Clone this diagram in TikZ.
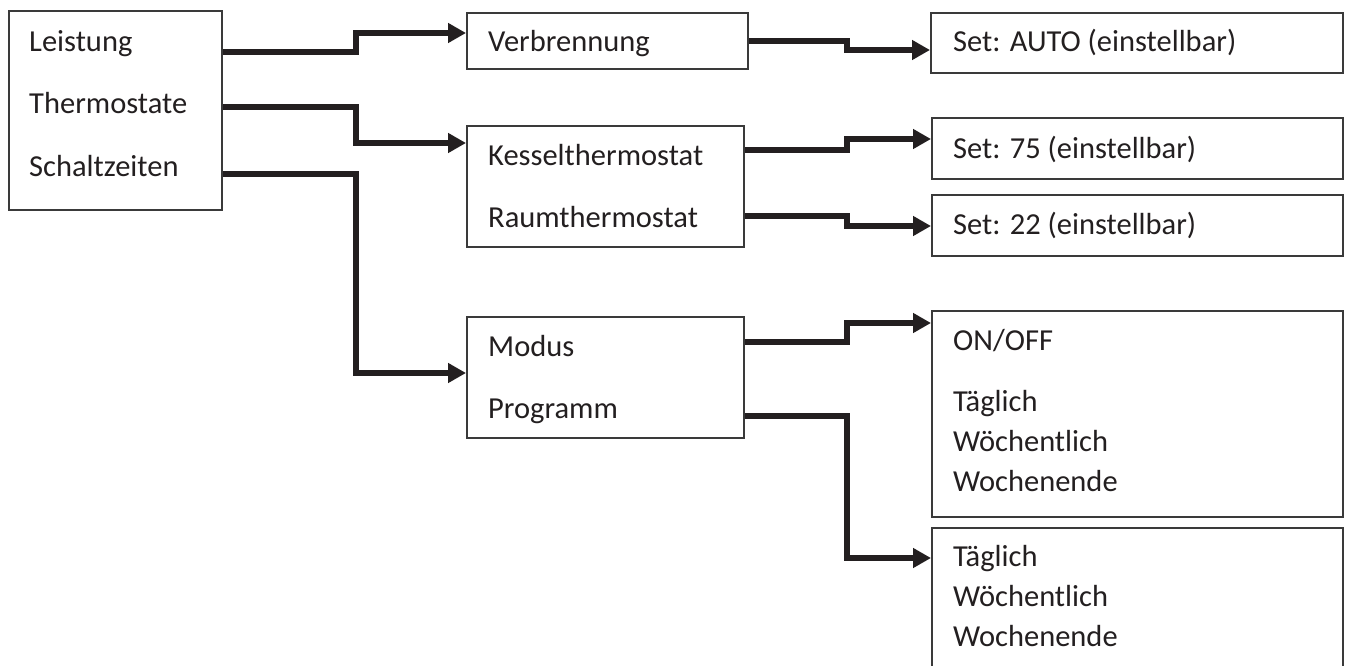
\documentclass[tikz,border=0pt]{standalone}
\usepackage{fontspec}
\setmainfont{Carlito}
\usetikzlibrary{arrows.meta}
\definecolor{boxgray}{HTML}{3A3A3A}
\definecolor{arr}{HTML}{231F20}
\definecolor{txt}{HTML}{231F20}
\begin{document}
\begin{tikzpicture}[x=1pt,y=-1pt,
  box/.style={draw=boxgray, line width=2pt, rectangle, anchor=north west, inner sep=0pt},
  lbl/.style={anchor=base west, inner sep=0pt, font=\fontsize{30.5}{36}\selectfont, text=txt},
  conn/.style={draw=arr, line width=6pt, line join=miter, -{Triangle[length=18pt,width=19pt]}}]
\useasboundingbox[fill=white] (0,0) rectangle (1349,666);

% boxes
\node[box, minimum width=213pt, minimum height=199pt] (A) at (8,10) {};
\node[box, minimum width=281pt, minimum height=56pt] (V) at (466,12) {};
\node[box, minimum width=277pt, minimum height=121pt] (K) at (466,125) {};
\node[box, minimum width=277pt, minimum height=121pt] (M) at (466,316) {};
\node[box, minimum width=412pt, minimum height=60pt] (SA) at (930,12) {};
\node[box, minimum width=411pt, minimum height=61pt] (S75) at (931,117) {};
\node[box, minimum width=411pt, minimum height=61pt] (S22) at (931,194) {};
\node[box, minimum width=411pt, minimum height=206pt] (OO) at (931,310) {};
\node[box, minimum width=411pt, minimum height=160pt] (TL) at (931,527) {};

% texts
\node[lbl] (tA1) at (29,52) {Leistung};
\node[lbl] (tA2) at (29,114) {Thermostate};
\node[lbl] (tA3) at (29,176) {Schaltzeiten};
\node[lbl] (tV) at (488,52) {Verbrennung};
\node[lbl] (tK1) at (488,165) {Kesselthermostat};
\node[lbl] (tK2) at (488,227) {Raumthermostat};
\node[lbl] (tM1) at (488,356) {Modus};
\node[lbl] (tM2) at (488,418) {Programm};
\node[lbl] (tSA) at (953,52) {Set: AUTO (einstellbar)};
\node[lbl] (tS75) at (953,158) {Set: 75 (einstellbar)};
\node[lbl] (tS22) at (953,234) {Set: 22 (einstellbar)};
\node[lbl] (tO1) at (953,350) {ON/OFF};
\node[lbl] (tO2) at (953,411) {Täglich};
\node[lbl] (tO3) at (953,451) {Wöchentlich};
\node[lbl] (tO4) at (953,491) {Wochenende};
\node[lbl] (tT1) at (953,566) {Täglich};
\node[lbl] (tT2) at (953,606) {Wöchentlich};
\node[lbl] (tT3) at (953,646) {Wochenende};

% connectors
\draw[conn] (A.east |- 0,52) -- (356,52) -- (356,33) -- (V.west |- 0,33);
\draw[conn] (A.east |- 0,107) -- (356,107) -- (356,143) -- (K.west |- 0,143);
\draw[conn] (A.east |- 0,174) -- (356,174) -- (356,373) -- (M.west |- 0,373);
\draw[conn] (V.east |- 0,41) -- (847,41) -- (847,50) -- (SA.west |- 0,50);
\draw[conn] (K.east |- 0,150) -- (847,150) -- (847,139) -- (S75.west |- 0,139);
\draw[conn] (K.east |- 0,216) -- (847,216) -- (847,226) -- (S22.west |- 0,226);
\draw[conn] (M.east |- 0,342) -- (847,342) -- (847,323) -- (OO.west |- 0,323);
\draw[conn] (M.east |- 0,416) -- (847,416) -- (847,558) -- (TL.west |- 0,558);
\end{tikzpicture}
\end{document}
